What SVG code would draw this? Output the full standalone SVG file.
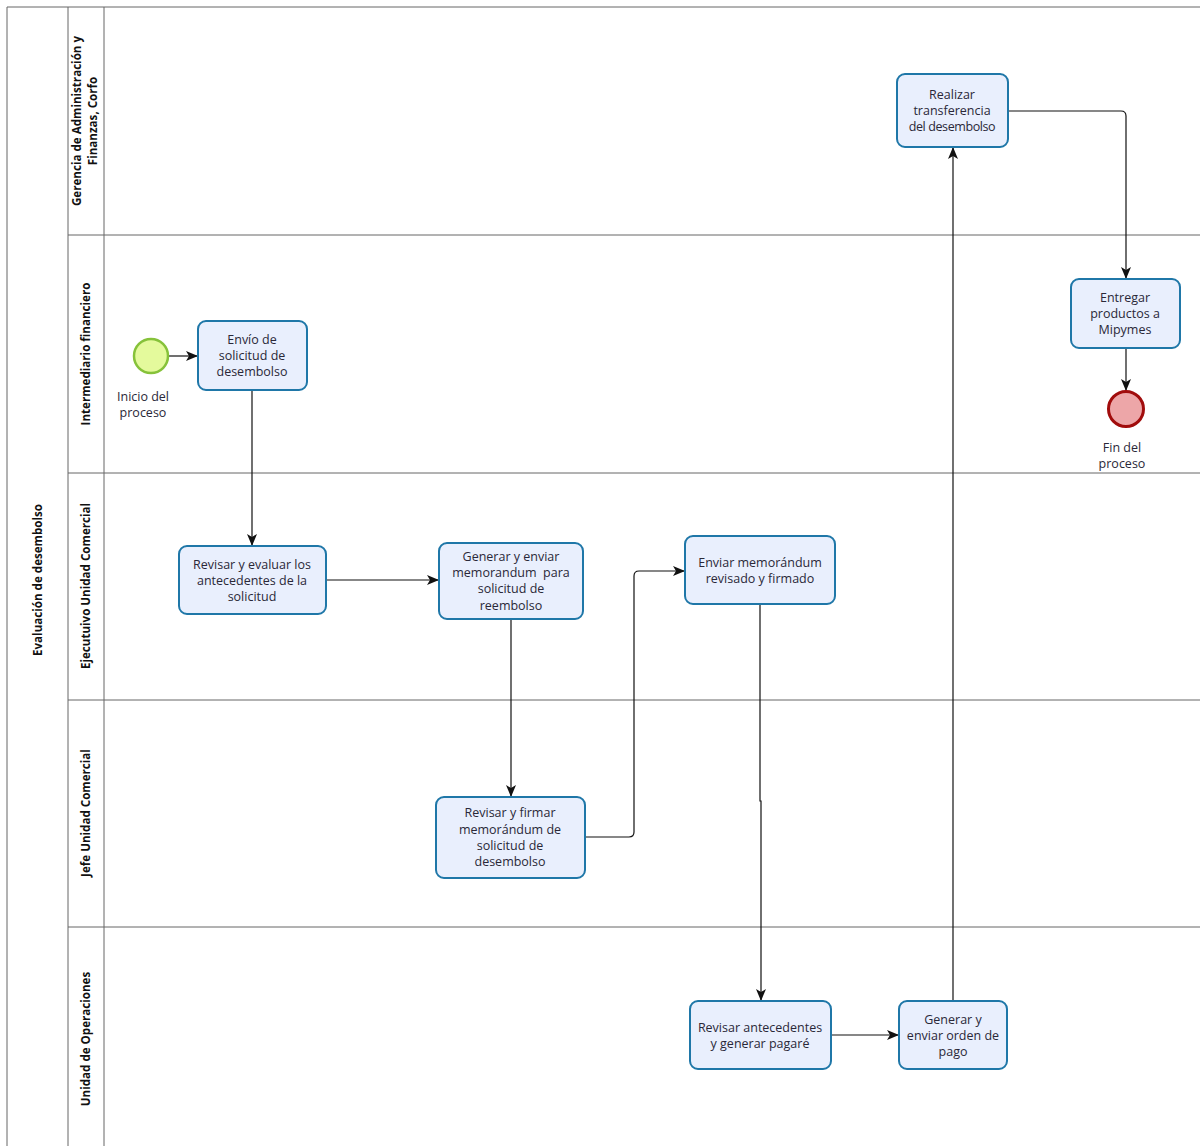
<svg xmlns="http://www.w3.org/2000/svg" width="1200" height="1146" viewBox="0 0 1200 1146">
  <style>
    .pool { fill: none; stroke: #666; stroke-width: 1; }
    .lane-label { font-family: "Open Sans", "Liberation Sans", sans-serif; font-size: 11.6px; font-weight: bold; fill: #111; text-anchor: middle; }
    .task rect { fill: #e9effd; stroke: #1f77a8; stroke-width: 2; }
    .task text, .ev-label { font-family: "Open Sans", "Liberation Sans", sans-serif; font-size: 12.5px; fill: #2a2838; text-anchor: middle; white-space: pre; }
    .task text { transform: translateY(1px); }
    .flow { fill: none; stroke: #111; stroke-width: 1.2; }
  </style>
  <defs>
    <marker id="arrow" viewBox="0 0 12 12" refX="11" refY="6" markerWidth="12" markerHeight="12" markerUnits="userSpaceOnUse" orient="auto">
      <path d="M0,1 L12,6 L0,11 L3,6 Z" fill="#111"/>
    </marker>
  </defs>
  <rect width="1200" height="1146" fill="#fff"/>

  <!-- pool and lanes -->
  <g id="pool">
    <path class="pool" d="M1200,7 H7 V1146 M68,7 V1146 M104,7 V1146 M68,235 H1200 M68,473 H1200 M68,700 H1200 M68,927 H1200"/>
    <text class="lane-label" transform="translate(42,580) rotate(-90)">Evaluación de desembolso</text>
    <text class="lane-label" transform="translate(81,121) rotate(-90)">Gerencia de Administración y</text>
    <text class="lane-label" transform="translate(97,121) rotate(-90)">Finanzas, Corfo</text>
    <text class="lane-label" transform="translate(90,354) rotate(-90)">Intermediario financiero</text>
    <text class="lane-label" transform="translate(90,586) rotate(-90)">Ejecutuivo Unidad Comercial</text>
    <text class="lane-label" transform="translate(90,813) rotate(-90)">Jefe Unidad Comercial</text>
    <text class="lane-label" transform="translate(90,1039) rotate(-90)">Unidad de Operaciones</text>
  </g>

  <!-- sequence flows -->
  <g id="connectors">
    <path class="flow" d="M169,356 H197" marker-end="url(#arrow)"/>
    <path class="flow" d="M252,390 V545" marker-end="url(#arrow)"/>
    <path class="flow" d="M326,580 H438" marker-end="url(#arrow)"/>
    <path class="flow" d="M511,619 V796" marker-end="url(#arrow)"/>
    <path class="flow" d="M585,837 H629 Q634,837 634,832 V576 Q634,571 639,571 H684" marker-end="url(#arrow)"/>
    <path class="flow" d="M760,604 V801 H761 V1000" marker-end="url(#arrow)"/>
    <path class="flow" d="M831,1035 H898" marker-end="url(#arrow)"/>
    <path class="flow" d="M953,1001 V148" marker-end="url(#arrow)"/>
    <path class="flow" d="M1008,111 H1121 Q1126,111 1126,116 V278" marker-end="url(#arrow)"/>
    <path class="flow" d="M1126,348 V390" marker-end="url(#arrow)"/>
  </g>

  <!-- events -->
  <g id="start">
    <circle cx="151" cy="356" r="17" fill="#e4fa9c" stroke="#86c23a" stroke-width="2.5"/>
    <text class="ev-label" x="143" y="401">Inicio del</text>
    <text class="ev-label" x="143" y="417">proceso</text>
  </g>
  <g id="end">
    <circle cx="1126" cy="409" r="17.5" fill="#eda6a8" stroke="#a10c0c" stroke-width="3"/>
    <text class="ev-label" x="1122" y="452">Fin del</text>
    <text class="ev-label" x="1122" y="468">proceso</text>
  </g>

  <!-- tasks -->
  <g id="t-transferencia" class="task">
    <rect x="897" y="74" width="111" height="73" rx="8"/>
    <text x="952" y="98">Realizar</text>
    <text x="952" y="114">transferencia</text>
    <text x="952" y="130" letter-spacing="-0.4">del desembolso</text>
  </g>
  <g id="t-entregar" class="task">
    <rect x="1071" y="279" width="109" height="69" rx="8"/>
    <text x="1125" y="301">Entregar</text>
    <text x="1125" y="317">productos a</text>
    <text x="1125" y="333">Mipymes</text>
  </g>
  <g id="t-envio" class="task">
    <rect x="198" y="321" width="109" height="69" rx="8"/>
    <text x="252" y="343">Envío de</text>
    <text x="252" y="359">solicitud de</text>
    <text x="252" y="375">desembolso</text>
  </g>
  <g id="t-revisar-evaluar" class="task">
    <rect x="179" y="546" width="147" height="68" rx="8"/>
    <text x="252" y="568">Revisar y evaluar los</text>
    <text x="252" y="584">antecedentes de la</text>
    <text x="252" y="600">solicitud</text>
  </g>
  <g id="t-generar-memo" class="task">
    <rect x="439" y="543" width="144" height="76" rx="8"/>
    <text x="511" y="560">Generar y enviar</text>
    <text x="511" y="576">memorandum  para</text>
    <text x="511" y="592">solicitud de</text>
    <text x="511" y="609">reembolso</text>
  </g>
  <g id="t-enviar-memo" class="task">
    <rect x="685" y="536" width="150" height="68" rx="8"/>
    <text x="760" y="566">Enviar memorándum</text>
    <text x="760" y="582">revisado y firmado</text>
  </g>
  <g id="t-revisar-firmar" class="task">
    <rect x="436" y="797" width="149" height="81" rx="8"/>
    <text x="510" y="816">Revisar y firmar</text>
    <text x="510" y="833">memorándum de</text>
    <text x="510" y="849">solicitud de</text>
    <text x="510" y="865">desembolso</text>
  </g>
  <g id="t-revisar-antecedentes" class="task">
    <rect x="690" y="1001" width="141" height="68" rx="8"/>
    <text x="760" y="1031">Revisar antecedentes</text>
    <text x="760" y="1047">y generar pagaré</text>
  </g>
  <g id="t-orden-pago" class="task">
    <rect x="899" y="1001" width="108" height="68" rx="8"/>
    <text x="953" y="1023">Generar y</text>
    <text x="953" y="1039">enviar orden de</text>
    <text x="953" y="1055">pago</text>
  </g>
</svg>
